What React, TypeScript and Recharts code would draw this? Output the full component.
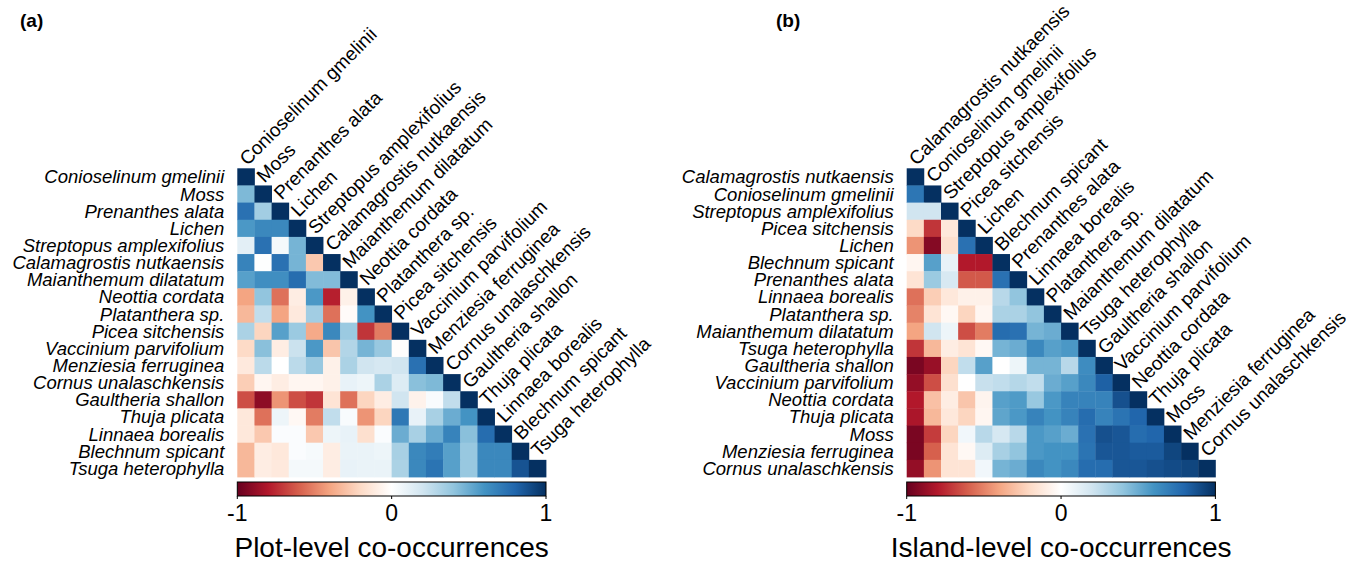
import React from 'react';
import { ScatterChart, Scatter, XAxis, YAxis } from 'recharts';

// species order as plotted (rows top->bottom, columns left->right)
const SPECIES_A = [
  'Conioselinum gmelinii', 'Moss', 'Prenanthes alata', 'Lichen', 'Streptopus amplexifolius',
  'Calamagrostis nutkaensis', 'Maianthemum dilatatum', 'Neottia cordata', 'Platanthera sp.',
  'Picea sitchensis', 'Vaccinium parvifolium', 'Menziesia ferruginea', 'Cornus unalaschkensis',
  'Gaultheria shallon', 'Thuja plicata', 'Linnaea borealis', 'Blechnum spicant', 'Tsuga heterophylla',
];

const SPECIES_B = [
  'Calamagrostis nutkaensis', 'Conioselinum gmelinii', 'Streptopus amplexifolius', 'Picea sitchensis',
  'Lichen', 'Blechnum spicant', 'Prenanthes alata', 'Linnaea borealis', 'Platanthera sp.',
  'Maianthemum dilatatum', 'Tsuga heterophylla', 'Gaultheria shallon', 'Vaccinium parvifolium',
  'Neottia cordata', 'Thuja plicata', 'Moss', 'Menziesia ferruginea', 'Cornus unalaschkensis',
];

// lower triangle, plot-level
const CORR_A: number[][] = [
  [1],
  [0.45, 1],
  [0.75, 0.35, 1],
  [0.58, 0.65, 0.65, 1],
  [0.12, 0.75, 0.05, 0.47, 1],
  [0.67, 0.01, 0.75, 0.47, -0.27, 1],
  [0.55, 0.62, 0.62, 0.77, 0.44, 0.44, 1],
  [-0.4, 0.4, -0.55, -0.1, 0.58, -0.78, -0.08, 1],
  [-0.33, 0.25, -0.4, -0.12, 0.35, -0.55, -0.02, 0.6, 1],
  [0.32, -0.22, 0.55, 0.37, -0.38, 0.65, 0.37, -0.72, -0.52, 1],
  [-0.2, 0.42, -0.1, 0.22, 0.58, -0.28, 0.3, 0.47, 0.38, -0.01, 1],
  [-0.12, 0.27, 0.0, 0.27, 0.38, -0.08, 0.32, 0.2, 0.18, 0.2, 0.75, 1],
  [-0.25, -0.05, -0.1, -0.05, -0.05, -0.08, 0.1, 0.08, 0.32, 0.15, 0.42, 0.45, 1],
  [-0.65, -0.9, -0.45, -0.65, -0.72, -0.15, -0.55, -0.22, -0.1, 0.2, -0.07, 0.03, 0.25, 1],
  [-0.13, -0.55, 0.08, -0.04, -0.52, 0.25, 0.03, -0.45, -0.22, 0.72, 0.1, 0.33, 0.5, 0.6, 1],
  [-0.13, -0.27, 0.02, 0.02, -0.27, 0.08, 0.1, -0.17, 0.02, 0.5, 0.33, 0.5, 0.67, 0.42, 0.77, 1],
  [-0.33, -0.1, -0.13, 0.02, 0.04, -0.1, 0.09, 0.09, 0.08, 0.33, 0.65, 0.7, 0.55, 0.38, 0.65, 0.65, 1],
  [-0.33, -0.1, -0.12, 0.05, 0.05, -0.1, 0.1, 0.09, 0.09, 0.32, 0.65, 0.74, 0.55, 0.38, 0.65, 0.65, 0.87, 1],
];

// lower triangle, island-level
const CORR_B: number[][] = [
  [1],
  [0.73, 1],
  [0.2, 0.2, 1],
  [-0.2, -0.72, -0.13, 1],
  [-0.45, -0.92, -0.17, 0.75, 1],
  [-0.05, 0.55, 0.1, -0.8, -0.8, 1],
  [-0.15, 0.37, 0.17, -0.62, -0.62, 0.75, 1],
  [-0.55, -0.25, -0.13, -0.08, -0.08, 0.28, 0.4, 1],
  [-0.5, -0.15, -0.04, -0.22, -0.05, 0.32, 0.32, 0.4, 1],
  [-0.4, 0.2, 0.08, -0.65, -0.52, 0.77, 0.75, 0.47, 0.5, 1],
  [-0.72, -0.33, -0.1, -0.15, -0.04, 0.47, 0.5, 0.65, 0.55, 0.58, 1],
  [-0.95, -0.87, -0.22, 0.25, 0.55, 0.0, 0.08, 0.47, 0.47, 0.28, 0.63, 1],
  [-0.88, -0.65, -0.17, 0.0, 0.23, 0.25, 0.29, 0.25, 0.5, 0.55, 0.65, 0.82, 1],
  [-0.8, -0.3, -0.1, -0.28, -0.06, 0.55, 0.57, 0.38, 0.58, 0.67, 0.67, 0.67, 0.88, 1],
  [-0.82, -0.33, -0.13, -0.22, -0.05, 0.53, 0.58, 0.67, 0.6, 0.67, 0.77, 0.67, 0.74, 0.8, 1],
  [-0.95, -0.7, -0.22, 0.06, 0.28, 0.18, 0.28, 0.58, 0.55, 0.5, 0.75, 0.88, 0.86, 0.77, 0.8, 1],
  [-0.95, -0.6, -0.15, -0.04, 0.15, 0.33, 0.4, 0.58, 0.6, 0.6, 0.74, 0.86, 0.86, 0.84, 0.84, 0.92, 1],
  [-0.88, -0.45, -0.15, -0.15, 0.06, 0.47, 0.5, 0.65, 0.6, 0.65, 0.77, 0.77, 0.86, 0.86, 0.88, 0.9, 0.92, 1],
];

const COLORBAR_TICKS = [-1, 0, 1];

// corrplot RdBu ramp, -1 .. 1
const RDBU = ['#67001F', '#B2182B', '#D6604D', '#F4A582', '#FDDBC7', '#FFFFFF',
  '#D1E5F0', '#92C5DE', '#4393C3', '#2166AC', '#053061'];

const hex = (c: string) => [1, 3, 5].map((i) => parseInt(c.slice(i, i + 2), 16));
const corrColor = (v: number) => {
  const t = ((Math.max(-1, Math.min(1, v)) + 1) / 2) * (RDBU.length - 1);
  const i = Math.min(Math.floor(t), RDBU.length - 2);
  const f = t - i;
  const a = hex(RDBU[i]);
  const b = hex(RDBU[i + 1]);
  const m = a.map((x, k) => Math.round(x + (b[k] - x) * f));
  return `rgb(${m[0]},${m[1]},${m[2]})`;
};

const N = 18;
const CELL = 17.15;
const PLOT = CELL * N;
const TOP = 168.3;
const CHART_W = 673;
const CHART_H = 562;
const BAR_Y = 482;
const BAR_H = 14;
const FONT = '"Liberation Sans", Arial, Helvetica, sans-serif';

const CellShape = (props: any) => {
  const { cx, cy, payload } = props;
  return <rect x={cx - CELL / 2} y={cy - CELL / 2} width={CELL + 0.4} height={CELL + 0.4} fill={corrColor(payload.v)} />;
};

const DiagLabel = (props: any) => {
  const { cx, cy, payload } = props;
  return (
    <text transform={`translate(${cx + 1.5},${cy - 2}) rotate(-45)`} fontSize={19} fontFamily={FONT} fill="#000">
      {payload.name}
    </text>
  );
};

interface PanelProps { species: string[]; corr: number[][]; plotLeft: number; tag: string; tagX: number; title: string; gid: string; }

const Panel: React.FC<PanelProps> = ({ species, corr, plotLeft, tag, tagX, title, gid }) => {
  const cells = corr.flatMap((row, i) => row.map((v, j) => ({ x: j + 0.5, y: i + 0.5, v })));
  const diag = species.map((name, j) => ({ x: j + 0.5, y: j, name }));
  const barX = (v: number) => plotLeft + ((v + 1) / 2) * PLOT;

  const RowTick = (p: any) => (
    <text x={plotLeft - 13} y={p.y} dy="0.35em" textAnchor="end" fontStyle="italic" fontSize={18.5} fontFamily={FONT} fill="#000">
      {species[Math.floor(p.payload.value)]}
    </text>
  );

  return (
    <div style={{ position: 'relative', width: CHART_W, height: CHART_H }}>
      <ScatterChart width={CHART_W} height={CHART_H}
        margin={{ top: TOP, right: CHART_W - plotLeft - PLOT, bottom: CHART_H - TOP - PLOT, left: 0 }}>
        <XAxis type="number" dataKey="x" domain={[0, N]} hide />
        <YAxis type="number" dataKey="y" domain={[0, N]} reversed width={plotLeft}
          ticks={species.map((_, i) => i + 0.5)} interval={0}
          axisLine={false} tickLine={false} tick={<RowTick />} />
        <Scatter data={cells} shape={CellShape} isAnimationActive={false} />
        <Scatter data={diag} shape={DiagLabel} isAnimationActive={false} />
      </ScatterChart>
      <svg width={CHART_W} height={CHART_H} style={{ position: 'absolute', left: 0, top: 0, pointerEvents: 'none' }}>
        <defs>
          <linearGradient id={gid} x1="0" x2="1" y1="0" y2="0">
            {RDBU.map((c, i) => <stop key={i} offset={i / (RDBU.length - 1)} stopColor={c} />)}
          </linearGradient>
        </defs>
        <text x={tagX} y={27} fontSize={19} fontWeight="bold" fontFamily={FONT}>{tag}</text>
        <rect x={plotLeft} y={BAR_Y} width={PLOT} height={BAR_H} fill={`url(#${gid})`} stroke="#000" strokeWidth={1} />
        {COLORBAR_TICKS.map((t) => (
          <g key={t}>
            <line x1={barX(t)} x2={barX(t)} y1={BAR_Y + BAR_H} y2={BAR_Y + BAR_H + 3} stroke="#000" />
            <text x={barX(t)} y={521} textAnchor="middle" fontSize={23} fontFamily={FONT}>{t}</text>
          </g>
        ))}
        <text x={plotLeft + PLOT / 2} y={557} textAnchor="middle" fontSize={28} fontFamily={FONT}>{title}</text>
      </svg>
    </div>
  );
};

export default function App() {
  return (
    <div style={{ position: 'absolute', left: 0, top: 0, width: 1346, height: 562, background: '#fff', display: 'flex' }}>
      <Panel species={SPECIES_A} corr={CORR_A} plotLeft={237.3} tag="(a)" tagX={20} title="Plot-level co-occurrences" gid="cbarA" />
      <Panel species={SPECIES_B} corr={CORR_B} plotLeft={233.7} tag="(b)" tagX={103} title="Island-level co-occurrences" gid="cbarB" />
    </div>
  );
}
